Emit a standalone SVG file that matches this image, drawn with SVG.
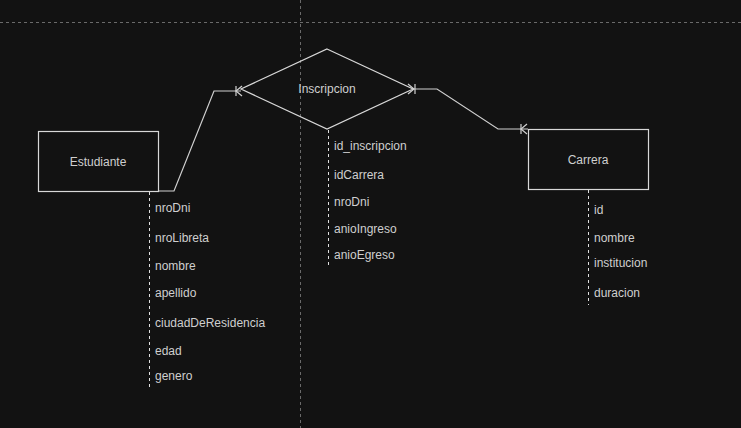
<svg xmlns="http://www.w3.org/2000/svg" width="741" height="428" viewBox="0 0 741 428">
<style>
.t{font-family:"Liberation Sans",Arial,sans-serif;font-size:12px;fill:#cfcfcf}
.c{text-anchor:middle;dominant-baseline:central}
.a{dominant-baseline:central}
.sh{fill:none;stroke:#d8d8d8;stroke-width:1.2}
.ln{fill:none;stroke:#d0d0d0;stroke-width:1.2}
.dl{fill:none;stroke:#e0e0e0;stroke-width:1;stroke-dasharray:3 3}
.grid{fill:none;stroke:#6a6a6a;stroke-width:1;stroke-dasharray:3 3}
</style>
<rect width="741" height="428" fill="#121212"/>
<g id="grid">
<line class="grid" x1="0" y1="22.5" x2="741" y2="22.5"/>
<line class="grid" x1="300.5" y1="0" x2="300.5" y2="428"/>
</g>
<g id="connectors">
<polyline class="ln" points="158,191 174,191 214,91 241,91"/>
<line class="ln" x1="236" y1="86" x2="236" y2="96"/>
<polyline class="ln" points="242,86 236,91 242,96"/>
<polyline class="ln" points="413,89 437,89 498,129 528,129"/>
<line class="ln" x1="415" y1="84" x2="415" y2="94"/>
<polyline class="ln" points="408,84 414,89 408,94"/>
<line class="ln" x1="521" y1="124" x2="521" y2="134"/>
<polyline class="ln" points="527,124 521,129 527,134"/>
<line class="dl" x1="149.5" y1="192" x2="149.5" y2="388"/>
<line class="dl" x1="328.5" y1="130" x2="328.5" y2="266"/>
<line class="dl" x1="588.5" y1="190" x2="588.5" y2="305"/>
</g>
<g id="estudiante">
<rect class="sh" x="38.5" y="131.5" width="120" height="60"/>
<text class="t c" x="98" y="162">Estudiante</text>
</g>
<g id="inscripcion">
<polygon class="sh" points="327,49 413,89 327,129 241,89"/>
<text class="t c" x="327" y="89">Inscripcion</text>
</g>
<g id="carrera">
<rect class="sh" x="528.5" y="129.5" width="120" height="60"/>
<text class="t c" x="588" y="160">Carrera</text>
</g>
<g id="estudiante-attrs">
<text class="t a" x="155" y="208">nroDni</text>
<text class="t a" x="155" y="238">nroLibreta</text>
<text class="t a" x="155" y="266">nombre</text>
<text class="t a" x="155" y="293">apellido</text>
<text class="t a" x="155" y="323">ciudadDeResidencia</text>
<text class="t a" x="155" y="351">edad</text>
<text class="t a" x="155" y="376">genero</text>
</g>
<g id="inscripcion-attrs">
<text class="t a" x="334" y="146">id_inscripcion</text>
<text class="t a" x="334" y="175">idCarrera</text>
<text class="t a" x="334" y="202">nroDni</text>
<text class="t a" x="334" y="229">anioIngreso</text>
<text class="t a" x="334" y="255">anioEgreso</text>
</g>
<g id="carrera-attrs">
<text class="t a" x="594" y="210">id</text>
<text class="t a" x="594" y="238">nombre</text>
<text class="t a" x="594" y="263">institucion</text>
<text class="t a" x="594" y="293">duracion</text>
</g>
</svg>
